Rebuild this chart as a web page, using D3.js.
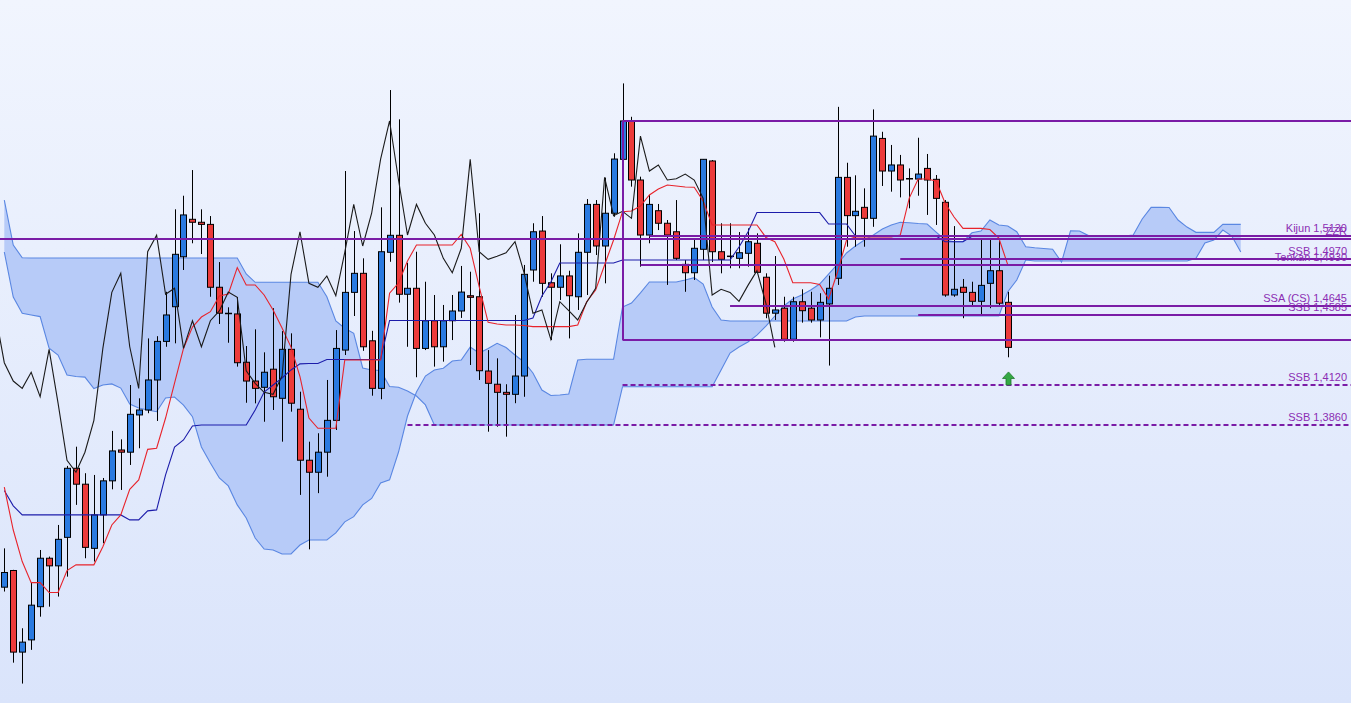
<!DOCTYPE html>
<html><head><meta charset="utf-8">
<script src="https://cdn.jsdelivr.net/npm/d3@7"></script>
<style>html,body{margin:0;padding:0;overflow:hidden;background:#eef3fe;} svg{display:block;}</style>
</head><body>
<svg id="c" width="1351" height="703"></svg>
<script>
// ---- candle data (prices) ----
const open = [1.2854,1.2954,1.2472,1.2543,1.2738,1.3028,1.2982,1.3155,1.3584,1.3484,
 1.3088,1.3293,1.3505,1.3700,1.3686,1.3925,1.3957,1.4153,1.4409,1.4643,
 1.4987,1.5250,1.5229,1.5214,1.4776,1.4597,1.4594,1.4270,1.4146,1.4105,
 1.4224,1.4033,1.4356,1.3962,1.3635,1.3559,1.3686,1.3890,1.4351,1.4741,
 1.4872,1.4413,1.4098,1.5018,1.5137,1.4728,1.4769,1.4362,1.4548,1.4373,
 1.4548,1.4614,1.4718,1.4711,1.4212,1.4125,1.4072,1.4059,1.4179,1.4895,
 1.5167,1.4807,1.4776,1.4854,1.4711,1.5018,1.5356,1.5062,1.5293,1.5681,
 1.5963,1.5531,1.5139,1.5311,1.5222,1.5162,1.4934,1.4876,1.5039,1.5669,
 1.5022,1.4990,1.4976,1.5011,1.5081,1.4845,1.4599,1.4633,1.4423,1.4677,
 1.4633,1.4553,1.4662,1.4838,1.5550,1.5276,1.5335,1.5257,1.5834,1.5596,
 1.5640,1.5540,1.5538,1.5615,1.5536,1.5371,1.4723,1.4776,1.4741,1.4680,
 1.4803,1.4890,1.4673];
const high = [1.3088,1.2958,1.2611,1.2885,1.3078,1.3038,1.3231,1.3599,1.3721,1.3553,
 1.3542,1.3523,1.3822,1.3768,1.4120,1.4033,1.4429,1.4444,1.4745,1.5321,
 1.5418,1.5603,1.5321,1.5273,1.4950,1.4639,1.4709,1.4378,1.4490,1.4336,
 1.4633,1.4478,1.4463,1.4076,1.3753,1.3807,1.4153,1.4485,1.5596,1.5167,
 1.4976,1.4480,1.5335,1.6194,1.5975,1.4945,1.5022,1.4814,1.4723,1.4655,
 1.4723,1.4923,1.4883,1.5293,1.4351,1.4296,1.4125,1.4587,1.4930,1.5222,
 1.5273,1.4872,1.5074,1.4890,1.5151,1.5394,1.5387,1.5548,1.5725,1.6244,
 1.5994,1.5555,1.5423,1.5359,1.5245,1.5387,1.4964,1.5118,1.5683,1.5676,
 1.5222,1.5222,1.5160,1.5186,1.5151,1.4872,1.4992,1.4711,1.4711,1.4762,
 1.4745,1.4735,1.4856,1.6068,1.5656,1.5565,1.5471,1.6049,1.5883,1.5786,
 1.5713,1.5615,1.5839,1.5720,1.5567,1.5387,1.5202,1.4833,1.4814,1.5104,
 1.5104,1.5104,1.4745];
const low = [1.2828,1.2411,1.2291,1.2485,1.2679,1.2738,1.2798,1.2917,1.3355,1.3028,
 1.3008,1.3119,1.3452,1.3448,1.3605,1.3711,1.3936,1.3886,1.4373,1.4396,
 1.4895,1.5081,1.5006,1.4711,1.4526,1.4400,1.4241,1.4004,1.4000,1.3881,
 1.3957,1.3753,1.3946,1.3417,1.3082,1.3428,1.3531,1.3828,1.4318,1.4580,
 1.4346,1.4050,1.4027,1.4952,1.4671,1.4373,1.4171,1.4351,1.4241,1.4274,
 1.4418,1.4567,1.4252,1.4153,1.3817,1.3849,1.3785,1.4001,1.4043,1.4814,
 1.4711,1.4418,1.4689,1.4429,1.4621,1.4723,1.4999,1.4803,1.5268,1.5664,
 1.5483,1.4918,1.5081,1.5174,1.4792,1.4964,1.4745,1.4826,1.4964,1.4950,
 1.4872,1.4907,1.4907,1.4918,1.4872,1.4565,1.4553,1.4407,1.4407,1.4535,
 1.4535,1.4436,1.4248,1.4792,1.5057,1.5057,1.5057,1.5197,1.5488,1.5447,
 1.5406,1.5328,1.5418,1.5281,1.5210,1.4711,1.4711,1.4565,1.4643,1.4587,
 1.4633,1.4643,1.4303];
const close = [1.2942,1.2472,1.2530,1.2747,1.3028,1.2982,1.3143,1.3584,1.3484,1.3094,
 1.3293,1.3505,1.3694,1.3686,1.3929,1.3957,1.4153,1.4409,1.4587,1.5004,
 1.5281,1.5229,1.5214,1.4776,1.4599,1.4597,1.4267,1.4146,1.4098,1.4204,
 1.4043,1.4356,1.4001,1.3635,1.3559,1.3686,1.3890,1.4362,1.4741,1.4872,
 1.4373,1.4098,1.5022,1.5137,1.4728,1.4769,1.4362,1.4548,1.4373,1.4548,
 1.4614,1.4743,1.4707,1.4214,1.4131,1.4072,1.4059,1.4179,1.4865,1.5162,
 1.4803,1.4776,1.4854,1.4718,1.5018,1.5356,1.5062,1.5293,1.5683,1.5963,
 1.5531,1.5139,1.5356,1.5222,1.5139,1.4976,1.4876,1.5046,1.5681,1.5022,
 1.4969,1.4990,1.5015,1.5092,1.4879,1.4599,1.4621,1.4423,1.4677,1.4616,
 1.4553,1.4673,1.4769,1.5550,1.5276,1.5307,1.5257,1.5851,1.5596,1.5640,
 1.5531,1.5540,1.5574,1.5531,1.5399,1.4723,1.4762,1.4741,1.4680,1.4789,
 1.4890,1.4667,1.4369];

// ---- Ichimoku lines ----
const tenkan = [1.3465,1.3200,1.3008,1.2881,1.2881,1.2822,1.2822,1.2954,1.2988,1.2988,
 1.2988,1.3098,1.3231,1.3293,1.3452,1.3511,1.3704,1.3711,1.3905,1.4133,
 1.4362,1.4505,1.4573,1.4609,1.4716,1.4730,1.4912,1.4792,1.4792,1.4723,
 1.4621,1.4499,1.4371,1.4175,1.3905,1.3839,1.3839,1.3839,1.4285,1.4285,
 1.4285,1.4285,1.4285,1.4735,1.4805,1.4957,1.5069,1.5069,1.5069,1.5069,
 1.5069,1.5143,1.5046,1.4780,1.4537,1.4526,1.4519,1.4519,1.4516,1.4508,
 1.4508,1.4508,1.4508,1.4508,1.4519,1.4677,1.4757,1.4930,1.5104,1.5304,
 1.5309,1.5344,1.5423,1.5466,1.5495,1.5488,1.5481,1.5479,1.5380,1.5210,
 1.5210,1.5210,1.5210,1.5210,1.5210,1.5122,1.5092,1.4971,1.4807,1.4807,
 1.4807,1.4795,1.4696,1.4881,1.5104,1.5125,1.5125,1.5125,1.5125,1.5125,
 1.5139,1.5401,1.5538,1.5538,1.5524,1.5366,1.5266,1.5186,1.5186,1.5186,
 1.5178,1.5118,1.4930];
const kijun = [1.3444,1.3349,1.3293,1.3293,1.3293,1.3293,1.3293,1.3293,1.3293,1.3293,
 1.3293,1.3293,1.3293,1.3293,1.3262,1.3262,1.3318,1.3324,1.3542,1.3719,
 1.3764,1.3854,1.3860,1.3860,1.3860,1.3860,1.3860,1.3860,1.3957,1.4074,
 1.4120,1.4166,1.4219,1.4259,1.4262,1.4262,1.4288,1.4288,1.4288,1.4288,
 1.4288,1.4288,1.4288,1.4550,1.4550,1.4550,1.4550,1.4550,1.4550,1.4550,
 1.4550,1.4550,1.4550,1.4550,1.4550,1.4550,1.4550,1.4550,1.4550,1.4567,
 1.4716,1.4812,1.4943,1.4943,1.4943,1.4943,1.4943,1.4943,1.4943,1.4964,
 1.4964,1.4964,1.4964,1.4964,1.4964,1.4964,1.4964,1.4964,1.4964,1.4964,
 1.4964,1.4964,1.5055,1.5160,1.5298,1.5298,1.5298,1.5298,1.5298,1.5298,
 1.5298,1.5298,1.5217,1.5217,1.5217,1.5132,1.5132,1.5132,1.5132,1.5132,
 1.5132,1.5132,1.5132,1.5132,1.5132,1.5092,1.5092,1.5092,1.5130,1.5130,
 1.5130,1.5130,1.5130];
const senkouA = [1.5020,1.4709,1.4599,1.4587,1.4576,1.4364,1.4318,1.4186,1.4176,1.4172,
 1.4097,1.4120,1.4127,1.4100,1.3996,1.3970,1.3957,1.3946,1.4035,1.4041,
 1.3989,1.3914,1.3719,1.3618,1.3523,1.3473,1.3355,1.3274,1.3151,1.3084,
 1.3078,1.3054,1.3054,1.3108,1.3139,1.3139,1.3139,1.3182,1.3250,1.3282,
 1.3355,1.3395,1.3492,1.3511,1.3687,1.3918,1.4074,1.4179,1.4219,1.4230,
 1.4278,1.4285,1.4371,1.4331,1.4362,1.4396,1.4368,1.4318,1.4272,1.4199,
 1.4087,1.4051,1.4055,1.4061,1.4285,1.4290,1.4290,1.4290,1.4290,1.4641,
 1.4668,1.4737,1.4812,1.4812,1.4812,1.4812,1.4826,1.4842,1.4798,1.4641,
 1.4553,1.4546,1.4546,1.4546,1.4546,1.4546,1.4546,1.4546,1.4546,1.4546,
 1.4546,1.4546,1.4546,1.4546,1.4546,1.4573,1.4580,1.4580,1.4580,1.4580,
 1.4580,1.4580,1.4580,1.4580,1.4580,1.4580,1.4580,1.4580,1.4580,1.4580,
 1.4580,1.4580,1.4745,1.4826,1.4964,1.4957,1.4957,1.4957,1.4957,1.4957,
 1.4957,1.4957,1.4957,1.4957,1.4957,1.4957,1.4957,1.4957,1.4957,1.4957,
 1.4957,1.4957,1.4957,1.4976,1.5083,1.5104,1.5174,1.5132,1.5020];
const senkouB = [1.5387,1.5069,1.4980,1.4978,1.4978,1.4978,1.4978,1.4978,1.4978,1.4978,
 1.4978,1.4978,1.4978,1.4978,1.4978,1.4978,1.4978,1.4978,1.4978,1.4978,
 1.4978,1.4978,1.4978,1.4978,1.4978,1.4978,1.4978,1.4868,1.4810,1.4810,
 1.4810,1.4810,1.4810,1.4810,1.4810,1.4810,1.4711,1.4546,1.4497,1.4463,
 1.4232,1.4219,1.4216,1.4110,1.4105,1.4081,1.4048,1.3990,1.3860,1.3860,
 1.3860,1.3860,1.3860,1.3860,1.3860,1.3860,1.3860,1.3860,1.3860,1.3860,
 1.3860,1.3860,1.3860,1.3860,1.3860,1.3860,1.3860,1.3860,1.3860,1.4109,
 1.4109,1.4109,1.4109,1.4109,1.4109,1.4109,1.4109,1.4109,1.4109,1.4109,
 1.4219,1.4331,1.4371,1.4405,1.4451,1.4512,1.4580,1.4648,1.4696,1.4723,
 1.4757,1.4798,1.4867,1.4936,1.5013,1.5062,1.5104,1.5139,1.5181,1.5210,
 1.5229,1.5226,1.5220,1.5217,1.5160,1.5104,1.5092,1.5092,1.5155,1.5167,
 1.5245,1.5210,1.5203,1.5162,1.5057,1.5050,1.5045,1.5039,1.4950,1.5169,
 1.5167,1.5135,1.5132,1.5132,1.5132,1.5132,1.5139,1.5252,1.5335,1.5335,
 1.5334,1.5245,1.5195,1.5158,1.5158,1.5158,1.5214,1.5214,1.5214];
const chikouShift = 26;

// ---- horizontal levels ----
const levelPrice  = [1.5963, 1.5111, 1.5130, 1.4970, 1.4930, 1.4645, 1.4585, 1.4418, 1.4120, 1.3860];
const levelStart  = [69, -0.48, 72, 100, 71, 81, 102, 69, 69, 45];
const levelDashed = [false, false, false, false, false, false, false, false, true, true];
const boxIndex = 69, boxTop = 1.5963, boxBottom = 1.4418;
const labelText  = ["Kijun 1,5130", "ZZR", "SSB 1,4970", "Tenkan 1,4930", "SSA (CS) 1,4645", "SSB 1,4585", "SSB 1,4120", "SSB 1,3860"];
const labelPrice = [1.5130, 1.5111, 1.4970, 1.4930, 1.4645, 1.4585, 1.4120, 1.3860];
const arrowIndex = 112, arrowTip = 1.4206, arrowBase = 1.4120;

// ---- scales ----
const W = 1351, H = 703;
const x = d3.scaleLinear().domain([0, 112]).range([4.3, 1007.8]);
const y = d3.scaleLog().domain([1.386, 1.412]).range([425, 385]);

const svg = d3.select('#c');
const defs = svg.append('defs');
const grad = defs.append('linearGradient').attr('id','bg').attr('x1',0).attr('y1',0).attr('x2',0).attr('y2',1);
grad.append('stop').attr('offset','0%').attr('stop-color','#f1f5fe');
grad.append('stop').attr('offset','100%').attr('stop-color','#dae4fb');
svg.append('rect').attr('width',W).attr('height',H).attr('fill','url(#bg)');
defs.append('clipPath').attr('id','clip').append('rect').attr('width',W).attr('height',H);
const plot = svg.append('g').attr('clip-path','url(#clip)');

// cloud
const cloudIdx = d3.range(senkouA.length);
plot.append('path').datum(cloudIdx)
  .attr('d', d3.area().x(i=>x(i)).y0(i=>y(senkouA[i])).y1(i=>y(senkouB[i])))
  .attr('fill','#b7cbf8').attr('stroke','none');
[senkouA, senkouB].forEach(s=>{
  plot.append('path').datum(cloudIdx)
    .attr('d', d3.line().x(i=>x(i)).y(i=>y(s[i])))
    .attr('fill','none').attr('stroke','#5a87e2').attr('stroke-width',1.1);
});

// candles
const idx = d3.range(open.length);
const cx = i => Math.round(x(i)) + 0.5;
const cg = plot.append('g');
cg.selectAll('line.w').data(idx).join('line')
  .attr('x1',cx).attr('x2',cx)
  .attr('y1',i=>y(high[i])).attr('y2',i=>y(low[i]))
  .attr('stroke','#000').attr('stroke-width',1);
cg.selectAll('rect.b').data(idx.filter(i=>open[i]!==close[i])).join('rect')
  .attr('x',i=>cx(i)-3).attr('width',6)
  .attr('y',i=>Math.min(y(open[i]),y(close[i])))
  .attr('height',i=>Math.max(1,Math.abs(y(open[i])-y(close[i]))))
  .attr('fill',i=>close[i]>open[i]?'#2a7ae0':'#ec3b3b')
  .attr('stroke','#000').attr('stroke-width',1);
cg.selectAll('line.d').data(idx.filter(i=>open[i]===close[i])).join('line')
  .attr('x1',i=>cx(i)-3.5).attr('x2',i=>cx(i)+3.5)
  .attr('y1',i=>y(open[i])).attr('y2',i=>y(open[i]))
  .attr('stroke','#000').attr('stroke-width',1.5);

// lines
plot.append('path').datum(idx)
  .attr('d', d3.line().x(i=>x(i)).y(i=>y(kijun[i])))
  .attr('fill','none').attr('stroke','#1c1caa').attr('stroke-width',1.1);
plot.append('path').datum(idx)
  .attr('d', d3.line().x(i=>x(i)).y(i=>y(tenkan[i])))
  .attr('fill','none').attr('stroke','#e8232b').attr('stroke-width',1.1);
// Chikou: closes plotted 26 bars back (starting one bar left of the visible first candle)
const chIdx = d3.range(-1, close.length - chikouShift);
plot.append('path').datum(chIdx)
  .attr('d', d3.line().x(i=>x(i)).y(i=>y(close[i+chikouShift])))
  .attr('fill','none').attr('stroke','#1a1a1a').attr('stroke-width',1.1);

// levels
const purple = '#7a1ca6';
levelPrice.forEach((p,k)=>{
  const yy = Math.round(y(p));
  plot.append('line').attr('x1',Math.max(0,x(levelStart[k]))).attr('x2',W)
    .attr('y1',yy).attr('y2',yy)
    .attr('stroke',purple).attr('stroke-width',2)
    .attr('stroke-dasharray', levelDashed[k] ? '5,3' : null);
});
plot.append('line').attr('x1',Math.round(x(boxIndex))).attr('x2',Math.round(x(boxIndex)))
  .attr('y1',Math.round(y(boxTop))).attr('y2',Math.round(y(boxBottom)))
  .attr('stroke',purple).attr('stroke-width',2);

// labels
labelText.forEach((t,k)=>{
  svg.append('text').attr('x',1347).attr('y',y(labelPrice[k])-4)
    .attr('text-anchor','end').attr('font-family','Liberation Sans, Arial, sans-serif')
    .attr('font-size',11).attr('fill','#8b2db3').text(t);
});

// arrow
const ax = Math.round(x(arrowIndex)) + 0.5, at = y(arrowTip), ab = y(arrowBase);
const mid = at + (ab-at)*0.5;
svg.append('path')
  .attr('d', `M${ax},${at} L${ax+6},${mid} L${ax+2.5},${mid} L${ax+2.5},${ab} L${ax-2.5},${ab} L${ax-2.5},${mid} L${ax-6},${mid} Z`)
  .attr('fill','#34a844').attr('stroke','#1d7a2b').attr('stroke-width',0.8);
</script>
</body></html>
